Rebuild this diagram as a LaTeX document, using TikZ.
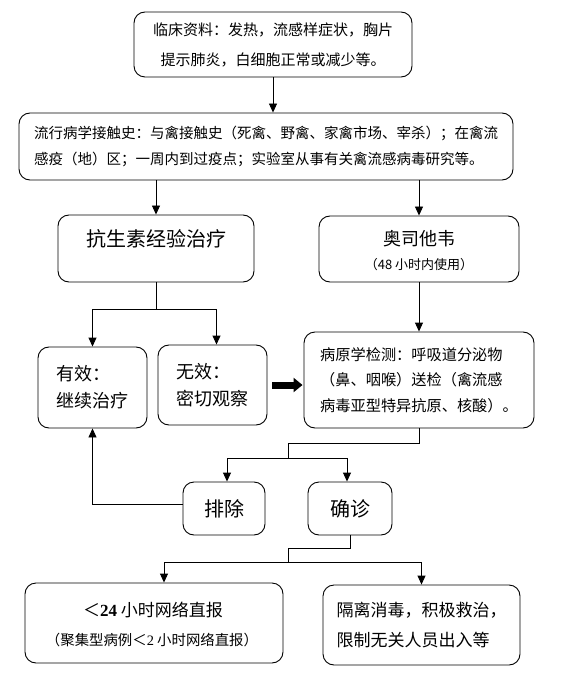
\documentclass[tikz,border=0pt]{standalone}
\usepackage{fontspec}
\setmainfont{Noto Sans CJK SC}
\newfontfamily\tnr{Liberation Serif}
\usetikzlibrary{arrows.meta,calc}
\newcommand{\fs}[2]{\fontsize{#1}{#2}\selectfont}
\tikzset{
  box/.style={draw=black, line width=0.9pt, rounded corners=11pt, inner sep=0pt, align=center, fill=white},
  lbox/.style={box, align=left},
  conn/.style={draw=black, line width=0.9pt},
  arr/.style={conn, -{Triangle[length=9pt,width=8pt]}},
  fat/.style={draw=black, line width=7pt, -{Triangle[length=9pt,width=14pt]}},
}
\begin{document}
\begin{tikzpicture}[x=1pt,y=-1pt]
\useasboundingbox[fill=white] (0,0) rectangle (562,684);

\node[box, minimum width=278pt, minimum height=65pt, font=\fs{15}{30}] (b1) at (273,44.5)
  {临床资料：发热，流感样症状，胸片\\提示肺炎，白细胞正常或减少等。};
\node[box, minimum width=494pt, minimum height=67pt, font=\fs{14.5}{26}, align=left] (b2) at (266,146.5)
  {流行病学接触史：与禽接触史（死禽、野禽、家禽市场、宰杀）；在禽流\\感疫（地）区；一周内到过疫点；实验室从事有关禽流感病毒研究等。};
\node[box, minimum width=196pt, minimum height=67pt] (b3) at (156,248.5) {};
\node[font=\fs{20}{20}] (t3) at (156,239) {抗生素经验治疗};
\node[box, minimum width=200pt, minimum height=66pt] (b4) at (419,249) {};
\node[font=\fs{18}{18}] (t4a) at (419,239) {奥司他韦};
\node[font=\fs{13}{13}] (t4b) at (419,265) {（48 小时内使用）};
\node[lbox, minimum width=109pt, minimum height=81pt, font=\fs{18}{27}] (b5) at (92.5,387.5)
  {有效：\\继续治疗};
\node[lbox, minimum width=109pt, minimum height=80pt, font=\fs{18}{27}] (b6) at (212.5,385)
  {无效：\\密切观察};
\node[lbox, minimum width=230pt, minimum height=96pt, font=\fs{15.2}{25.5}] (b7) at (419,380)
  {病原学检测：呼吸道分泌物\\（鼻、咽喉）送检（禽流感\\病毒亚型特异抗原、核酸）。};
\node[box, minimum width=82pt, minimum height=53pt, font=\fs{20}{20}] (b8) at (224,508.5) {排除};
\node[box, minimum width=84pt, minimum height=53pt, font=\fs{20}{20}] (b9) at (350,508.5) {确诊};
\node[box, minimum width=258pt, minimum height=80pt] (b10) at (154,623) {};
\node[font=\fs{17}{17}] (t10a) at (153,610) {＜{\tnr\bfseries 24} 小时网络直报};
\node[font=\fs{14.4}{14.4}] (t10b) at (152,640) {（聚集型病例＜{\tnr 2} 小时网络直报）};
\node[lbox, minimum width=197pt, minimum height=80pt, font=\fs{17}{30}] (b11) at (421.5,625)
  {隔离消毒，积极救治，\\限制无关人员出入等};

% connectors
\draw[arr] (b1.south) -- (b2.north -| b1.south);
\draw[arr] (b2.south -| b3.north) -- (b3.north);
\draw[arr] (b2.south -| b4.north) -- (b4.north);
\draw[conn] (b3.south) -- ++(0,27) coordinate (j1);
\draw[arr] (j1) -| (b5.north);
\draw[arr] (j1) -| ([xshift=4pt]b6.north);
\draw[arr] (b4.south) -- (b7.north);
\draw[fat] ([xshift=5pt]b6.east) -- ([xshift=-1pt]b7.west |- b6.east);
\draw[conn] (b7.south) -- ++(0,15) -| ($(b7.south)+(-131,30)$) coordinate (j2);
\draw[arr] (j2) -| ([xshift=3pt]b8.north);
\draw[arr] (j2) -| ([xshift=-3pt]b9.north);
\draw[arr] ([yshift=4pt]b8.west) -| (b5.south);
\draw[conn] (b9.south) -- ++(0,13) -| ($(b9.south)+(-62,27)$) coordinate (j3);
\draw[arr] (j3) -| ([xshift=10pt]b10.north);
\draw[arr] (j3) -| (b11.north);
\end{tikzpicture}
\end{document}
